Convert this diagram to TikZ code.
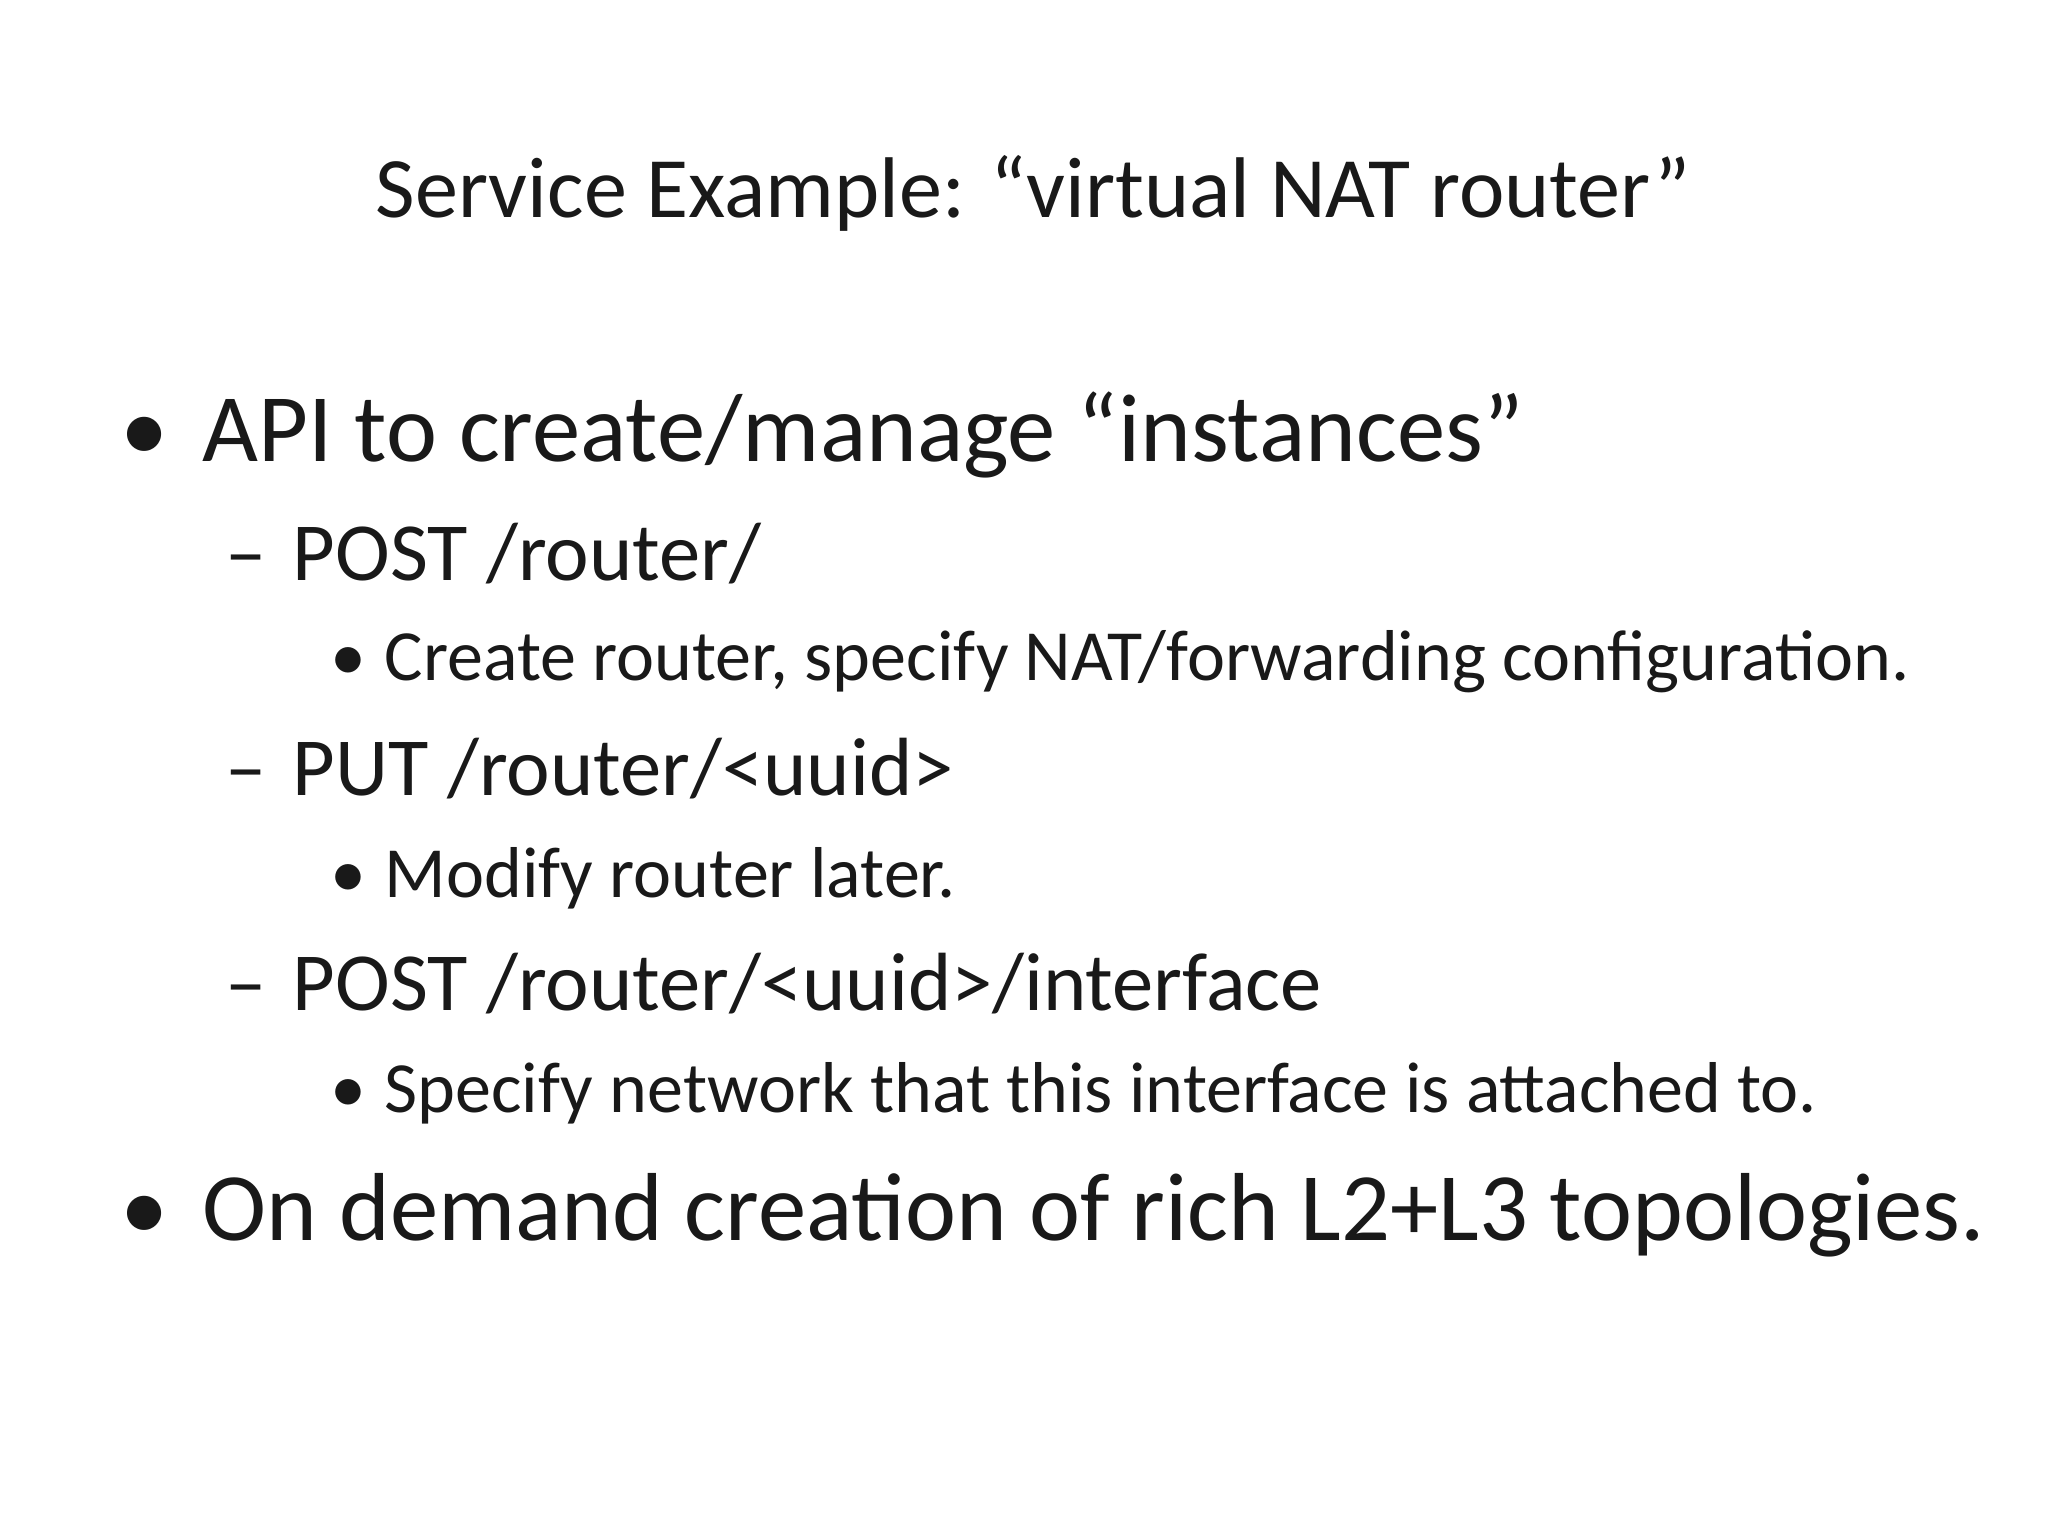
\documentclass[tikz,border=0pt]{standalone}
\usepackage{fontspec}
\setmainfont{Carlito}
\tikzset{
 t/.style={anchor=base west,inner sep=0pt,text=black!90},
 lone/.style={t,font=\fontsize{27.5}{30}\selectfont},
 ltwo/.style={t,font=\fontsize{23.5}{26}\selectfont},
 lthree/.style={t,font=\fontsize{20.5}{23}\selectfont},
}
\begin{document}
\begin{tikzpicture}
\useasboundingbox (0,0) rectangle (20.48,15.36);
\node[t,anchor=base,font=\fontsize{24.5}{27}\selectfont] (title) at (10.33,15.36-2.18) {Service Example: “virtual NAT router”};
\node[lone] (b1) at (1.20,15.36-4.62) {•};
\node[lone] (a1) at (2.02,15.36-4.62) {API to create/manage “instances”};
\node[ltwo] (d1) at (2.25,15.36-5.81) {–};
\node[ltwo] (a2) at (2.92,15.36-5.81) {POST /router/};
\node[lthree] (b2) at (3.30,15.36-6.81) {•};
\node[lthree] (a3) at (3.84,15.36-6.81) {Create router, specify NAT/forwarding configuration.};
\node[ltwo] (d2) at (2.25,15.36-7.96) {–};
\node[ltwo] (a4) at (2.92,15.36-7.96) {PUT /router/<uuid>};
\node[lthree] (b3) at (3.30,15.36-8.98) {•};
\node[lthree] (a5) at (3.84,15.36-8.98) {Modify router later.};
\node[ltwo] (d3) at (2.25,15.36-10.11) {–};
\node[ltwo] (a6) at (2.92,15.36-10.11) {POST /router/<uuid>/interface};
\node[lthree] (b4) at (3.30,15.36-11.13) {•};
\node[lthree] (a7) at (3.84,15.36-11.13) {Specify network that this interface is attached to.};
\node[lone] (b5) at (1.20,15.36-12.41) {•};
\node[lone] (a8) at (2.02,15.36-12.41) {On demand creation of rich L2+L3 topologies.};
\end{tikzpicture}
\end{document}
